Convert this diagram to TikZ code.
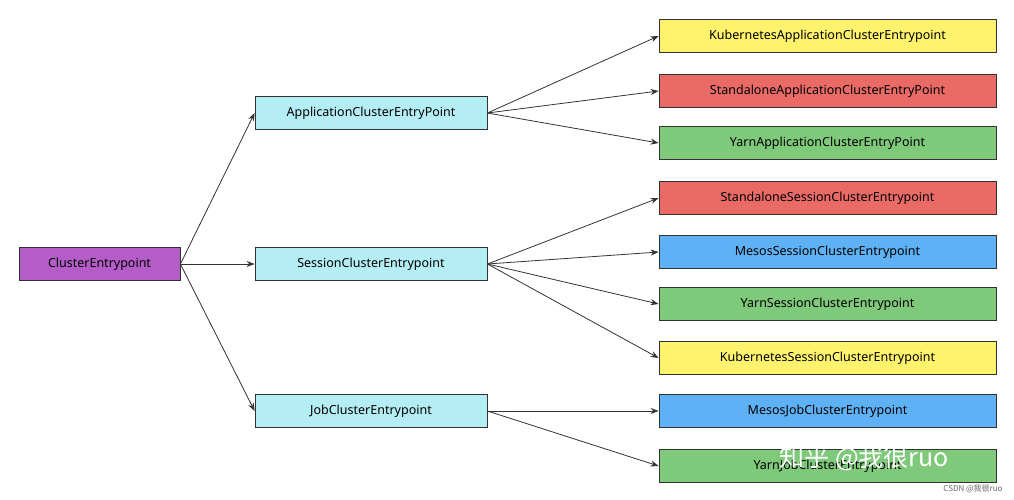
\documentclass[tikz,border=0pt]{standalone}
\usepackage{fontspec}
\setmainfont{Noto Sans}
\newfontfamily\cjk{Noto Sans CJK SC}
\usetikzlibrary{arrows.meta}
\definecolor{cpurple}{HTML}{B45CC8}
\definecolor{ccyan}{HTML}{B4EEF4}
\definecolor{cyellow}{HTML}{FFF36E}
\definecolor{cred}{HTML}{EA6B66}
\definecolor{cgreen}{HTML}{7FC97A}
\definecolor{cblue}{HTML}{5EB1F5}
\begin{document}
\begin{tikzpicture}[x=1pt,y=-1pt,
  box/.style={draw=black!80,line width=0.8pt,minimum height=33pt,inner sep=0pt,font=\fontsize{12.5}{14}\selectfont},
  mid/.style={box,fill=ccyan,minimum width=232pt},
  leaf/.style={box,minimum width=337pt},
  arr/.style={-{Stealth[length=8pt,width=6pt]},line width=0.8pt,draw=black!80}]
\useasboundingbox (0,0) rectangle (1014,500);
\fill[white] (0,0) rectangle (1014,500);
\node[box,fill=cpurple,minimum width=161pt] (ce) at (99.5,264) {ClusterEntrypoint};
\node[mid] (app) at (371,113) {ApplicationClusterEntryPoint};
\node[mid] (ses) at (371,264) {SessionClusterEntrypoint};
\node[mid] (job) at (371,411) {JobClusterEntrypoint};
\node[leaf,fill=cyellow] (l1) at (827.5,36) {KubernetesApplicationClusterEntrypoint};
\node[leaf,fill=cred] (l2) at (827.5,91) {StandaloneApplicationClusterEntryPoint};
\node[leaf,fill=cgreen] (l3) at (827.5,143) {YarnApplicationClusterEntryPoint};
\node[leaf,fill=cred] (l4) at (827.5,198) {StandaloneSessionClusterEntrypoint};
\node[leaf,fill=cblue] (l5) at (827.5,252) {MesosSessionClusterEntrypoint};
\node[leaf,fill=cgreen] (l6) at (827.5,304) {YarnSessionClusterEntrypoint};
\node[leaf,fill=cyellow] (l7) at (827.5,358) {KubernetesSessionClusterEntrypoint};
\node[leaf,fill=cblue] (l8) at (827.5,411) {MesosJobClusterEntrypoint};
\node[leaf,fill=cgreen] (l9) at (827.5,466) {YarnJobClusterEntrypoint};
\foreach \t in {app,ses,job} \draw[arr] (ce.east) -- (\t.west);
\foreach \t in {l1,l2,l3} \draw[arr] (app.east) -- (\t.west);
\foreach \t in {l4,l5,l6,l7} \draw[arr] (ses.east) -- (\t.west);
\foreach \t in {l8,l9} \draw[arr] (job.east) -- (\t.west);
\node[text=white,font=\cjk\fontsize{25}{27}\selectfont,anchor=west] (wm) at (776,458) {知乎 @我很ruo};
\node[text=black!60,font=\cjk\fontsize{8}{9}\selectfont,anchor=east] (wm2) at (1006,489) {CSDN @我很ruo};
\end{tikzpicture}
\end{document}
